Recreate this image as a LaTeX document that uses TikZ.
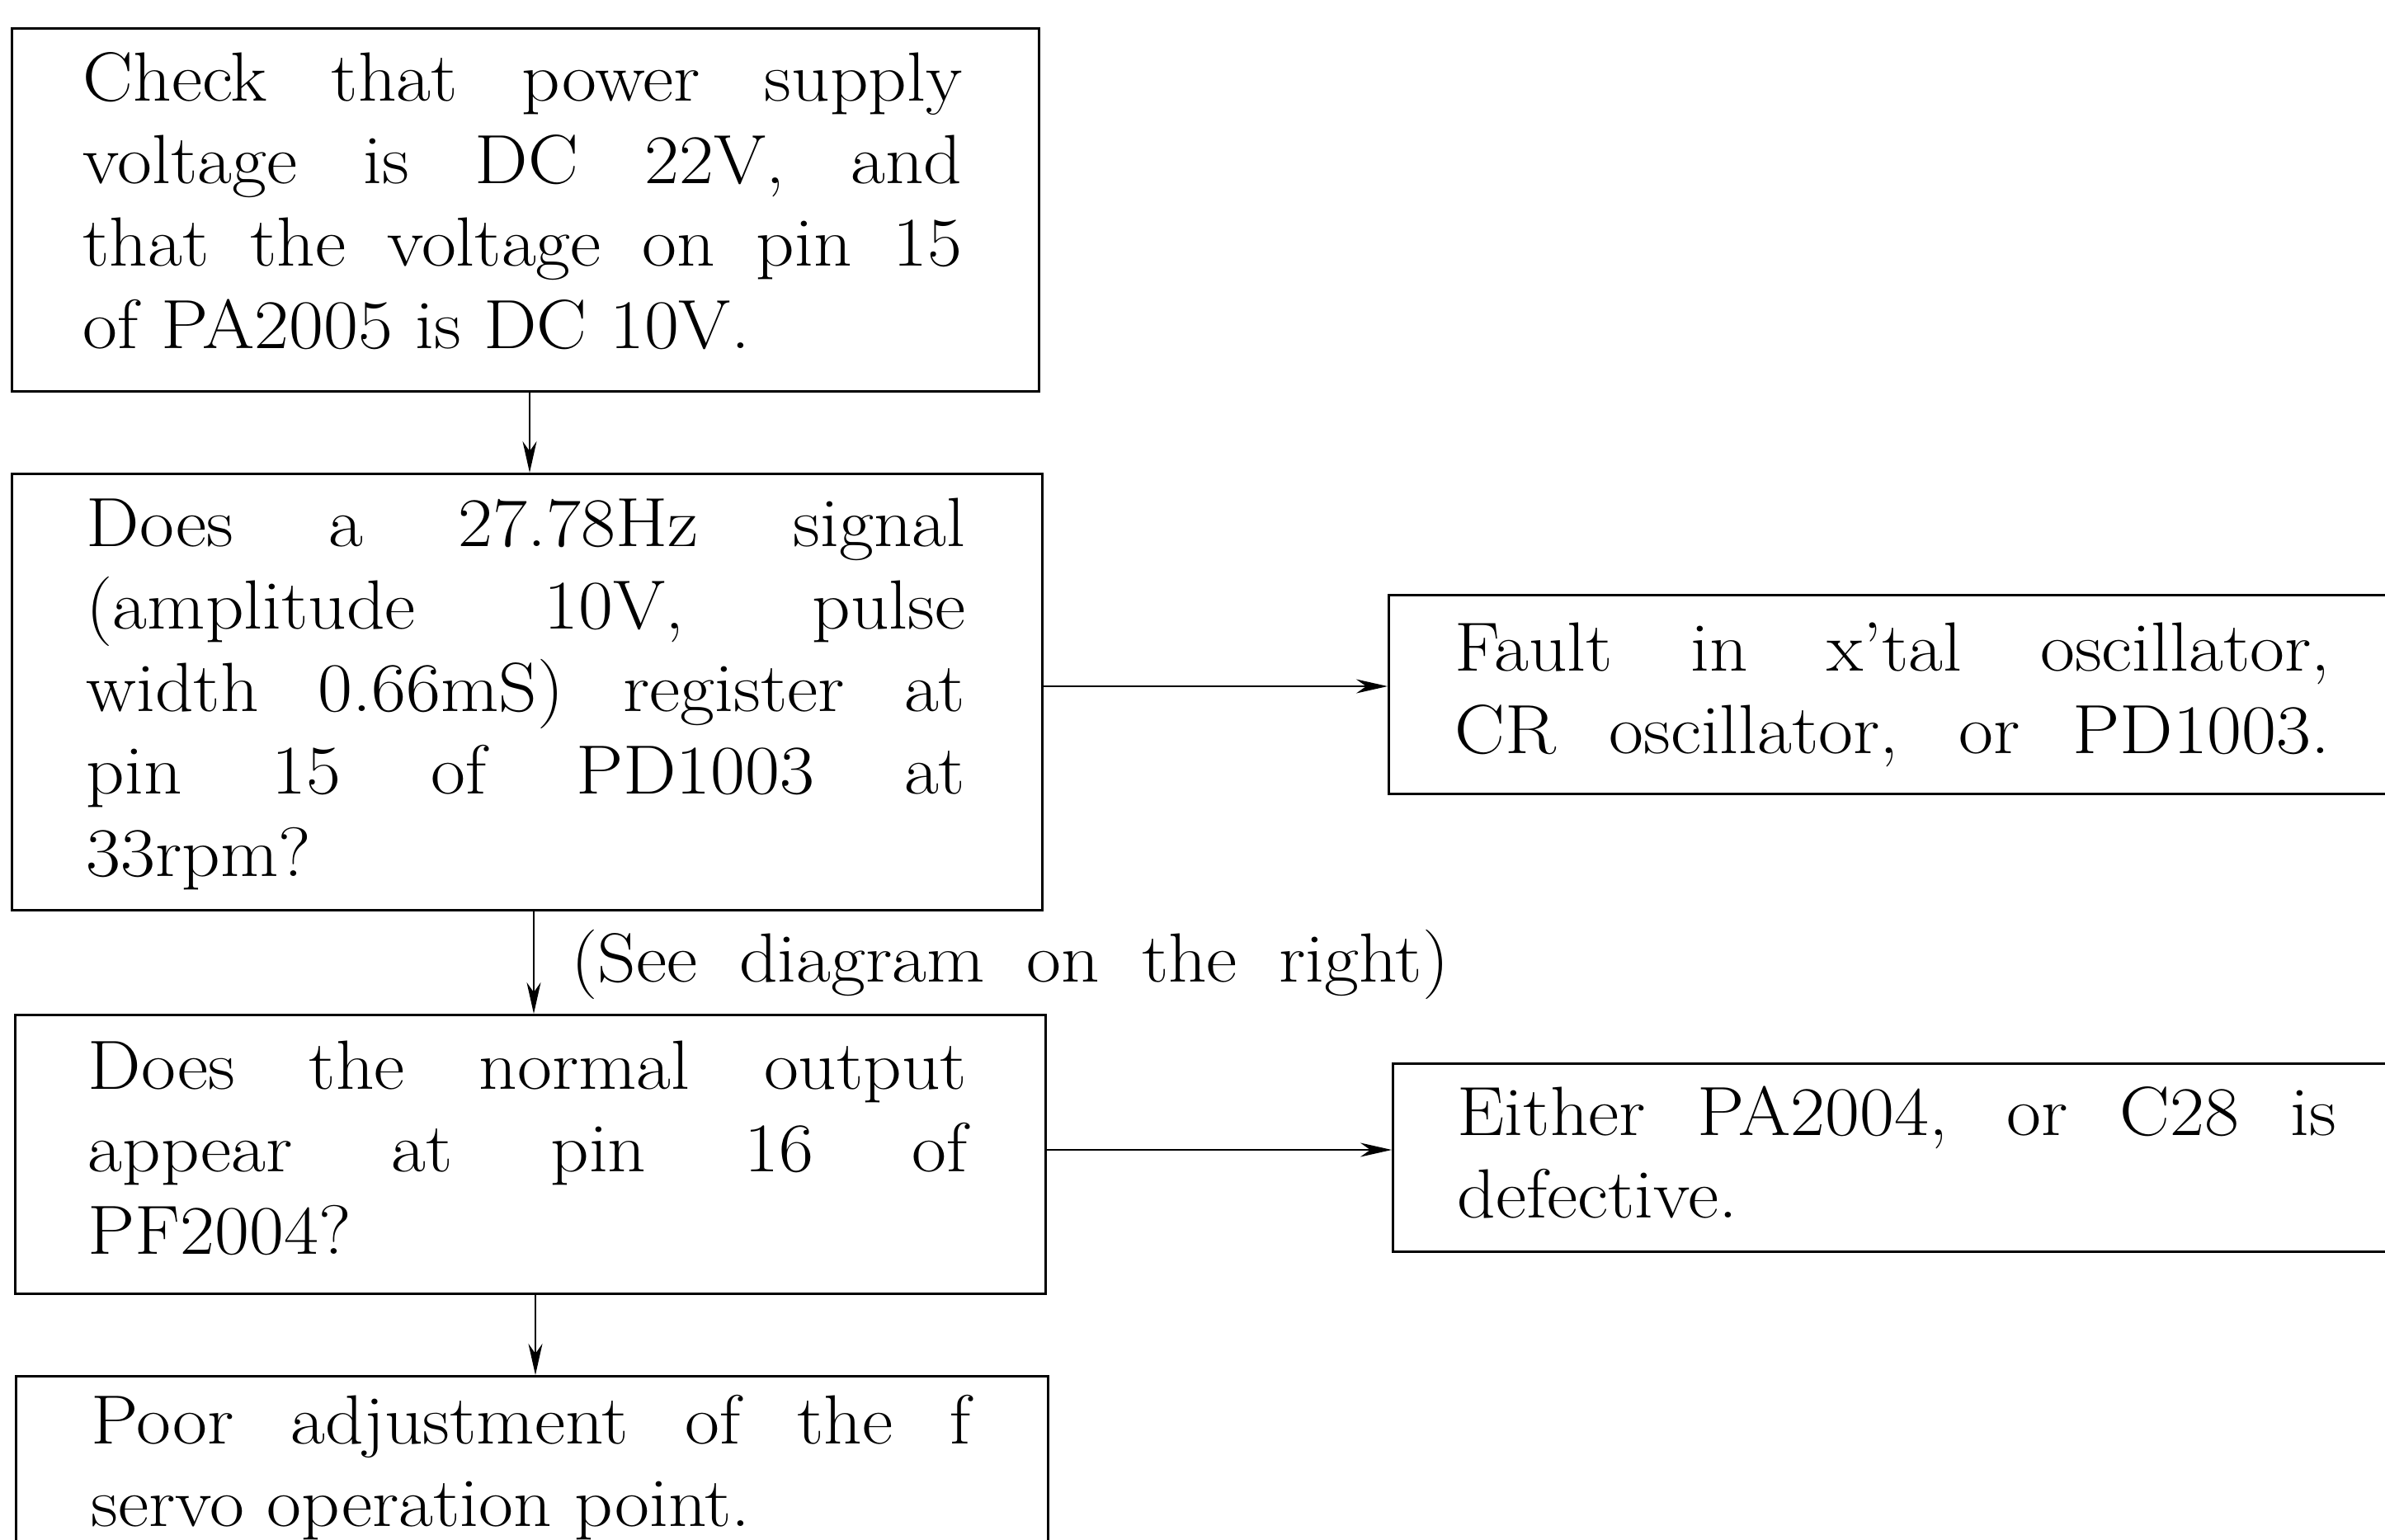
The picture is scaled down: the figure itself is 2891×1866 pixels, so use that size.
\documentclass[tikz,border=0pt]{standalone}
\usepackage{fontspec}
\setmainfont{Latin Modern Roman}[FakeStretch=1.08]
\usetikzlibrary{arrows.meta}
\hbadness=10000
\newcommand\dgfont{\fontsize{24}{28.45}\selectfont}
\newcommand\fullline[1]{\makebox[10.6cm][s]{#1}}
\tikzset{
  boxr/.style={draw, line width=0.9pt, inner sep=0pt, anchor=north west},
  txt/.style={anchor=base west, inner sep=0pt, text width=10.65cm, align=justify, font=\dgfont},
  conn/.style={line width=0.6pt, -{Stealth[length=3.8mm,width=1.7mm,inset=1.2mm]}},
}
\begin{document}
\begin{tikzpicture}[x=0.01cm,y=-0.01cm]
\useasboundingbox (0,0) rectangle (2891,1866);
% boxes
\node[boxr, minimum width=12.44cm, minimum height=4.40cm] (b1) at (13,33) {};
\node[boxr, minimum width=12.48cm, minimum height=5.29cm] (b2) at (13,573) {};
\node[boxr, minimum width=12.48cm, minimum height=3.38cm] (b3) at (17,1229) {};
\node[boxr, minimum width=12.50cm, minimum height=4.00cm] (b4) at (18,1667) {};
\node[boxr, minimum width=13.00cm, minimum height=2.41cm] (fault) at (1682,720) {};
\node[boxr, minimum width=13.00cm, minimum height=2.28cm] (either) at (1687,1288) {};
% texts
\node[txt] (t1) at (100,122) {Check that power supply\linebreak voltage is DC 22V, and\linebreak that the voltage on pin 15\linebreak of PA2005 is DC 10V.};
\node[txt] (t2) at (104,662) {Does a 27.78Hz signal\linebreak (amplitude 10V, pulse\linebreak width 0.66mS) register at\linebreak pin 15 of PD1003 at\linebreak 33rpm?};
\node[txt] (t3) at (106,1320) {Does the normal output\linebreak appear at pin 16 of\linebreak PF2004?};
\node[txt] (t4) at (110,1750) {Poor adjustment of the f\linebreak servo operation point.};
\node[txt] (tf) at (1763,813) {\fullline{Fault in x'tal oscillator,}\\\fullline{CR oscillator, or PD1003.}};
\node[txt] (te) at (1766,1376) {Either PA2004, or C28 is\linebreak defective.};
\node[anchor=base west, inner sep=0pt, font=\dgfont] (lbl) at (692,1190) {\makebox[10.63cm][s]{(See diagram on the right)}};
% connector guides
\coordinate (c1) at (642,0);
\coordinate (c2) at (647,0);
\coordinate (c3) at (649,0);
\coordinate (r1) at (0,832);
\coordinate (r2) at (0,1394);
% connectors
\draw[conn] (b1.south -| c1) -- (b2.north -| c1);
\draw[conn] (b2.south -| c2) -- (b3.north -| c2);
\draw[conn] (b3.south -| c3) -- (b4.north -| c3);
\draw[conn] (b2.east |- r1) -- (fault.west |- r1);
\draw[conn] (b3.east |- r2) -- (either.west |- r2);
\end{tikzpicture}
\end{document}
